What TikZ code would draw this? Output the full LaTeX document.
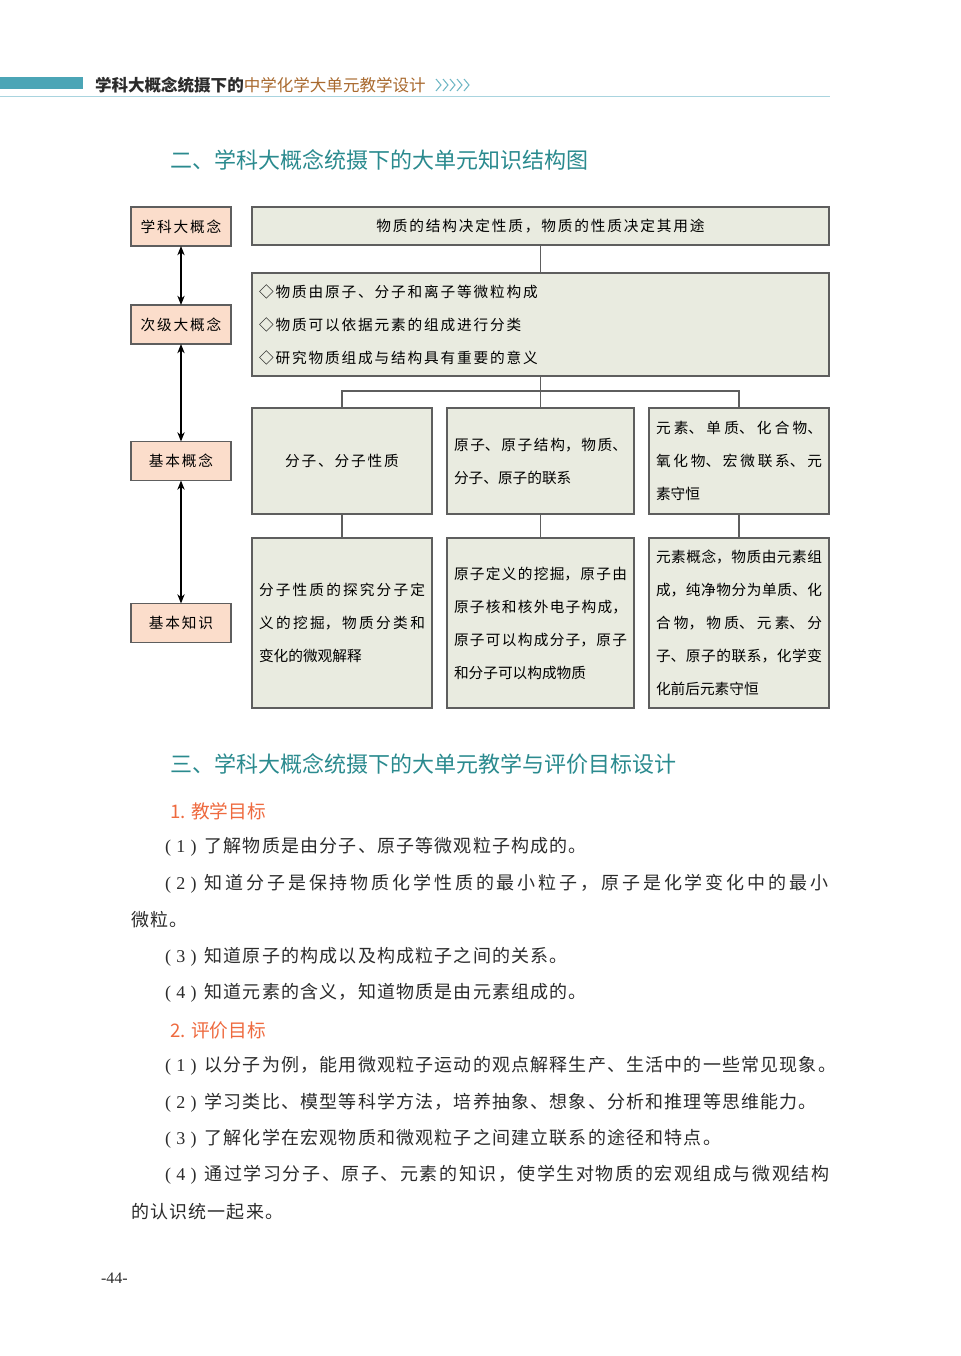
\documentclass[tikz,border=0pt]{standalone}
\usepackage{fontspec}
\setmainfont{Noto Sans CJK SC}
\newfontfamily\latinfont{Liberation Serif}
\newfontfamily\boxfont[LetterSpace=12.5]{Noto Sans CJK SC}
\newfontfamily\bodyfont[LetterSpace=6.5]{Noto Sans CJK SC}
\usepackage{tikz}
\usetikzlibrary{arrows.meta, positioning}

% stretchable space between CJK characters, only for the justified boxes
\newcommand{\cjkjustify}{\XeTeXlinebreaklocale "zh"\XeTeXlinebreakskip=0pt plus 5pt\relax}

\definecolor{barteal}{HTML}{4BA5B6}
\definecolor{ruleblue}{HTML}{A9D4DF}
\definecolor{headteal}{HTML}{2A8A8E}
\definecolor{headbrown}{HTML}{A8692E}
\definecolor{subred}{HTML}{EE6A3F}
\definecolor{salmon}{HTML}{FBDDCB}
\definecolor{boxgreen}{HTML}{E9EBE0}
\definecolor{boxline}{HTML}{5E5E5E}
\definecolor{bodytext}{HTML}{2B2B2B}

% item number in brackets, e.g. ( 1 )
\newcommand{\itemno}[1]{{\latinfont(\kern4pt#1\kern4pt)}\kern6pt}

\begin{document}
\begin{tikzpicture}[
    x=0.75pt, y=-0.75pt, % one unit = one pixel of the page, y downwards
    every node/.style={inner sep=0pt, outer sep=0pt},
    levelbox/.style={draw=boxline, fill=salmon, line width=1.1pt,
        minimum width=75pt, minimum height=29.25pt,
        font={\boxfont\fontsize{11pt}{24.75pt}\selectfont}},
    knowbox/.style={draw=boxline, fill=boxgreen, line width=1.1pt,
        inner xsep=5.25pt, align=left,
        font={\boxfont\fontsize{11pt}{24.75pt}\selectfont}},
    justbox/.style={knowbox, align=justify,
        font={\normalfont\fontsize{11pt}{24.75pt}\selectfont\cjkjustify}},
    link/.style={draw=boxline, line width=1.1pt},
    twoway/.style={{Stealth[length=7pt,width=5.5pt]}-{Stealth[length=7pt,width=5.5pt]}, line width=0.9pt},
    heading/.style={anchor=west, text=headteal, font={\fontsize{16.5pt}{20pt}\selectfont}},
    subheading/.style={anchor=west, text=subred, font={\fontsize{14pt}{16pt}\selectfont}},
    bodyline/.style={anchor=west, text=bodytext, font={\bodyfont\fontsize{13.5pt}{16pt}\selectfont}},
]
\useasboundingbox (0,0) rectangle (960,1356);

% =========================================================
% Running head
% =========================================================
\fill[barteal] (0,77) rectangle (83,89);
\node[anchor=west, font={\fontsize{12.4pt}{14pt}\selectfont}] (runhead) at (95,85)
    {\textcolor{bodytext}{\bfseries 学科大概念统摄下的}\textcolor{headbrown}{中学化学大单元教学设计}};
\foreach \i in {0,...,4}
    \draw[barteal!80, line width=0.8pt] (436+7*\i,79) -- ++(5,6) -- ++(-5,6);
\draw[ruleblue, line width=1.2pt] (0,96.5) -- (830,96.5);

% =========================================================
% 2. Structure chart
% =========================================================
\node[heading] (structhead) at (170,160) {二、学科大概念统摄下的大单元知识结构图};

% Levels on the left
\node[levelbox] (bigidea) at (181,226.5) {学科大概念};
\node[levelbox] (secondidea) at (181,324.5) {次级大概念};
\node[levelbox] (basicconcept) at (181,461) {基本概念};
\node[levelbox] (basicknow) at (181,623) {基本知识};

\draw[twoway] (bigidea) -- (secondidea);
\draw[twoway] (secondidea) -- (basicconcept);
\draw[twoway] (basicconcept) -- (basicknow);

% Big idea and secondary ideas
\node[knowbox, align=center, minimum width=432.75pt, minimum height=28.5pt] (principle) at (540.5,226)
    {物质的结构决定性质，物质的性质决定其用途};
\node[knowbox, text width=422.25pt, minimum height=77.25pt] (subideas) at (540.5,324.5)
    {◇物质由原子、分子和离子等微粒构成\\◇物质可以依据元素的组成进行分类\\◇研究物质组成与结构具有重要的意义};

% Basic concepts
\node[knowbox, align=center, text width=124.5pt, minimum height=79.5pt] (molecule) at (342,461)
    {分子、分子性质};
\node[justbox, text width=129.75pt, minimum height=79.5pt] (atom) at (540.5,461)
    {原子、原子结构，物质、\linebreak 分子、原子的联系};
\node[justbox, text width=124.5pt, minimum height=79.5pt] (element) at (739,461)
    {元素、单质、化合物、\linebreak 氧化物、宏微联系、元\linebreak 素守恒};

% Basic knowledge
\node[justbox, text width=124.5pt, minimum height=127.5pt] (moleculeknow) at (342,623)
    {分子性质的探究分子定\linebreak 义的挖掘，物质分类和\linebreak 变化的微观解释};
\node[justbox, text width=129.75pt, minimum height=127.5pt] (atomknow) at (540.5,623)
    {原子定义的挖掘，原子由\linebreak 原子核和核外电子构成，\linebreak 原子可以构成分子，原子\linebreak 和分子可以构成物质};
\node[justbox, text width=124.5pt, minimum height=127.5pt] (elementknow) at (739,623)
    {元素概念，物质由元素组\linebreak 成，纯净物分为单质、化\linebreak 合物，物质、元素、分\linebreak 子、原子的联系，化学变\linebreak 化前后元素守恒};

% Connectors
\draw[link] (principle) -- (subideas);
\draw[link] (subideas) -- (atom);
\draw[link] (molecule.north) -- ++(0,-17) -| (element.north);
\draw[link] (molecule) -- (moleculeknow);
\draw[link] (atom) -- (atomknow);
\draw[link] (element) -- (elementknow);

% =========================================================
% 3. Teaching and evaluation goals
% =========================================================
\node[heading] (goalhead) at (170,764) {三、学科大概念统摄下的大单元教学与评价目标设计};

\node[subheading] (teachhead) at (170,811) {1. 教学目标};
\node[bodyline] (teach1) at (165,847) {\itemno{1}了解物质是由分子、原子等微观粒子构成的。};
\node[bodyline] (teach2) at (165,884) {\addfontfeature{LetterSpace=16}\itemno{2}知道分子是保持物质化学性质的最小粒子，原子是化学变化中的最小};
\node[bodyline] (teach2b) at (131,920) {微粒。};
\node[bodyline] (teach3) at (165,957) {\itemno{3}知道原子的构成以及构成粒子之间的关系。};
\node[bodyline] (teach4) at (165,993) {\itemno{4}知道元素的含义，知道物质是由元素组成的。};

\node[subheading] (evalhead) at (170,1030) {2. 评价目标};
\node[bodyline] (eval1) at (165,1066) {\itemno{1}以分子为例，能用微观粒子运动的观点解释生产、生活中的一些常见现象。};
\node[bodyline] (eval2) at (165,1103) {\itemno{2}学习类比、模型等科学方法，培养抽象、想象、分析和推理等思维能力。};
\node[bodyline] (eval3) at (165,1139) {\itemno{3}了解化学在宏观物质和微观粒子之间建立联系的途径和特点。};
\node[bodyline] (eval4) at (165,1175) {\addfontfeature{LetterSpace=8.7}\itemno{4}通过学习分子、原子、元素的知识，使学生对物质的宏观组成与微观结构};
\node[bodyline] (eval4b) at (131,1212) {的认识统一起来。};

% Page number
\node[anchor=west, text=bodytext, font={\latinfont\fontsize{12pt}{14pt}\selectfont}] (pagenum) at (101,1278) {-44-};

\end{tikzpicture}
\end{document}
